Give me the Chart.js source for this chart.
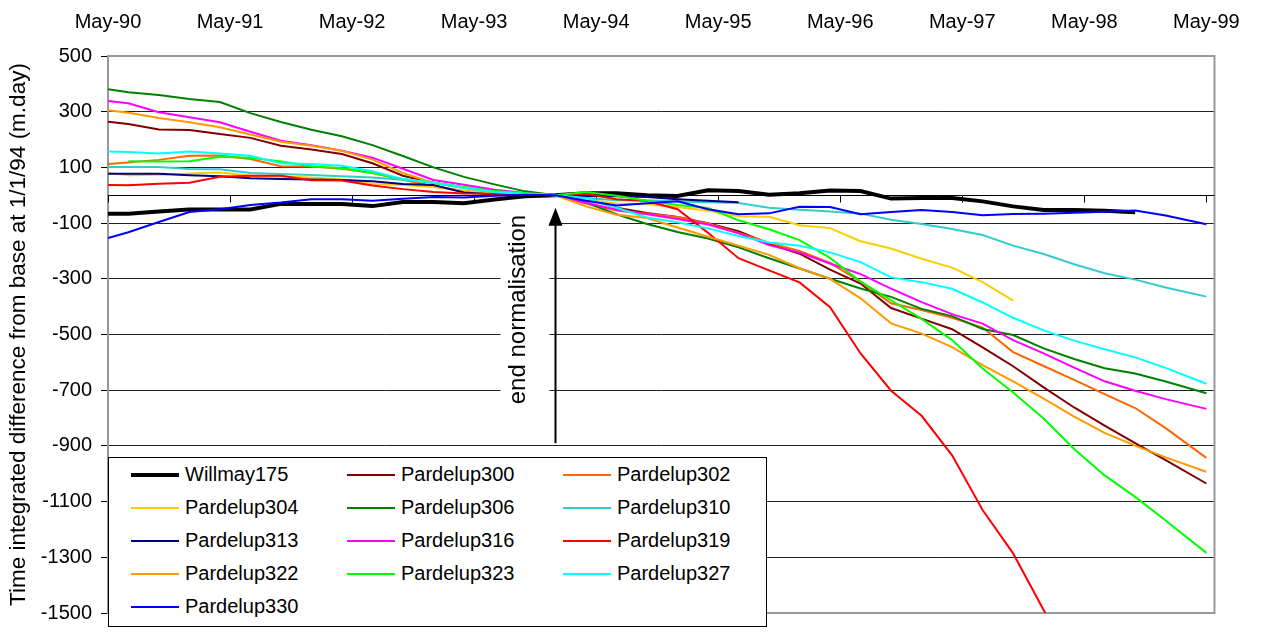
<!DOCTYPE html>
<html>
<head>
<meta charset="utf-8">
<script src="https://cdn.jsdelivr.net/npm/chart.js@4.4.1/dist/chart.umd.min.js"></script>
<style>
  html, body { margin: 0; padding: 0; background: #fff; }
  #wrap { position: relative; width: 1262px; height: 634px; }
  #legend {
    position: absolute; left: 108px; top: 457px; width: 659px; height: 170px;
    box-sizing: border-box; border: 1px solid #000; background: #fff;
    padding-left: 22px;
    display: grid; grid-template-columns: 216px 216px 190px; grid-auto-rows: 33px;
    font: 20px Arial, "Liberation Sans", sans-serif; color: #000;
  }
  .item { display: flex; align-items: center; white-space: nowrap; }
  .swatch { width: 48px; margin-right: 6px; }
</style>
</head>
<body>
<div id="wrap">
  <canvas id="chart" width="1262" height="634"></canvas>
  <div id="legend"></div>
</div>
<script>
// months after May-90 (Jan-94 = 44)
const months = [0, 2, 5, 8, 11, 14, 17, 20, 23, 26, 29, 32, 35, 38, 41, 44, 47, 50, 53, 56, 59, 62, 65, 68, 71, 74, 77, 80, 83, 86, 89, 92, 95, 98, 101, 104, 108];
const tickLabels = ['May-90', 'May-91', 'May-92', 'May-93', 'May-94', 'May-95', 'May-96', 'May-97', 'May-98', 'May-99'];

const willmay175 = [-66, -66, -58, -51, -51, -51, -31, -31, -31, -39, -24, -24, -29, -15, -4, 0, 7, 7, 0, -3, 18, 15, 2, 7, 17, 15, -12, -10, -10, -22, -40, -53, -53, -56, -61, null, null];
const pardelup300 = [264, 256, 236, 234, 220, 206, 178, 164, 148, 115, 70, 45, 28, 15, 6, 0, -10, -45, -64, -78, -100, -129, -174, -210, -267, -317, -405, -443, -481, -546, -614, -690, -762, -827, -890, -951, -1035];
const pardelup302 = [112, 118, 127, 142, 143, 130, 104, 103, 95, 80, 56, 32, 15, 8, 4, 0, -30, -55, -66, -78, -101, -135, -170, -200, -243, -310, -388, -412, -440, -475, -563, -613, -663, -714, -764, -836, -943];
const pardelup304 = [80, 72, 74, 78, 82, 70, 67, 64, 57, 40, 37, 30, 15, 8, 4, 0, -15, -30, -32, -42, -56, -75, -77, -108, -118, -165, -191, -228, -260, -312, -378, null, null, null, null, null, null];
const pardelup306 = [381, 370, 360, 346, 335, 295, 263, 235, 212, 180, 141, 100, 66, 39, 14, 0, -26, -68, -103, -132, -155, -187, -226, -263, -300, -335, -365, -408, -434, -480, -502, -550, -588, -621, -640, -669, -711];
const pardelup310 = [101, 101, 101, 94, 93, 80, 76, 73, 68, 64, 56, 45, 25, 12, 5, 0, -10, -18, -18, -22, -25, -28, -45, -52, -58, -66, -88, -103, -121, -143, -181, -211, -248, -280, -303, -331, -364];
const pardelup313 = [77, 77, 77, 72, 68, 61, 58, 57, 55, 50, 40, 37, 10, 3, 2, 0, -3, -4, -6, -14, -20, -25, null, null, null, null, null, null, null, null, null, null, null, null, null, null, null];
const pardelup316 = [338, 330, 298, 280, 262, 228, 196, 180, 160, 135, 95, 55, 38, 20, 8, 0, -27, -52, -68, -85, -105, -137, -179, -206, -245, -283, -335, -384, -427, -461, -520, -568, -619, -668, -702, -732, -767];
const pardelup319 = [37, 36, 41, 45, 66, 70, 70, 54, 53, 35, 22, 12, 6, 5, 3, 0, 5, -14, -21, -50, -135, -226, -270, -313, -402, -568, -702, -792, -934, -1130, -1286, -1489, -1690, null, null, null, null];
const pardelup322 = [305, 296, 277, 262, 244, 218, 192, 178, 160, 128, 80, 44, 28, 12, 5, 0, -40, -70, -82, -116, -149, -181, -214, -262, -300, -370, -460, -497, -545, -610, -668, -730, -795, -853, -899, -941, -993];
const pardelup323 = [null, 122, 121, 122, 138, 135, 121, 103, 98, 80, 58, 45, 30, 15, 8, 0, 12, -2, -20, -35, -46, -90, -122, -161, -225, -310, -377, -444, -520, -622, -708, -802, -911, -1006, -1083, -1168, -1284];
const pardelup327 = [157, 155, 150, 157, 150, 142, 115, 112, 106, 86, 58, 45, 28, 12, 5, 0, -10, -45, -80, -97, -119, -146, -170, -181, -205, -240, -295, -312, -336, -385, -440, -485, -522, -553, -582, -620, -677];
const pardelup330 = [-154, -133, -96, -60, -50, -35, -26, -14, -14, -20, -13, -6, -8, -2, 2, 0, -20, -37, -29, -22, -50, -68, -65, -41, -42, -68, -60, -53, -60, -72, -67, -66, -63, -59, -55, -73, -104];

const seriesNames = ['Willmay175', 'Pardelup300', 'Pardelup302', 'Pardelup304', 'Pardelup306', 'Pardelup310', 'Pardelup313',
  'Pardelup316', 'Pardelup319', 'Pardelup322', 'Pardelup323', 'Pardelup327', 'Pardelup330'];
const seriesValues = [willmay175, pardelup300, pardelup302, pardelup304, pardelup306, pardelup310, pardelup313,
  pardelup316, pardelup319, pardelup322, pardelup323, pardelup327, pardelup330];
const seriesColors = ['#000000', '#800000', '#FF6600', '#FFCC00', '#008000', '#33CCCC', '#000080',
  '#FF00FF', '#FF0000', '#FF9900', '#00FF00', '#00FFFF', '#0000FF'];

// annotation: arrow at Jan-94 pointing up to the normalisation point
const noteMonth = 44;
const noteFrom = -890;
const noteTo = -45;
const noteText = 'end normalisation';

const FONT = 'Arial, "Liberation Sans", sans-serif';

const datasets = seriesNames.map((name, i) => ({
  label: name,
  data: months.map((m, j) => ({ x: m, y: seriesValues[i][j] })),
  borderColor: seriesColors[i],
  backgroundColor: seriesColors[i],
  borderWidth: i === 0 ? 4 : 2,
  pointRadius: 0,
  tension: 0,
  spanGaps: false,
  order: -i,
}));

const frame = {
  id: 'frame',
  beforeDatasetsDraw(chart) {
    const { ctx, chartArea: a, scales: { x, y } } = chart;
    ctx.save();
    ctx.strokeStyle = '#999';
    ctx.lineWidth = 2;
    ctx.strokeRect(a.left, a.top, a.right - a.left, a.bottom - a.top);
    // horizontal axis crossing at zero, ticks pointing down
    const y0 = Math.round(y.getPixelForValue(0)) + 0.5;
    ctx.strokeStyle = '#000';
    ctx.lineWidth = 1;
    ctx.beginPath();
    ctx.moveTo(a.left, y0);
    ctx.lineTo(a.right, y0);
    tickLabels.forEach((_, k) => {
      const px = Math.round(x.getPixelForValue(k * 12)) + 0.5;
      ctx.moveTo(px, y0);
      ctx.lineTo(px, y0 + 7);
    });
    ctx.stroke();
    ctx.restore();
  },
  afterDatasetsDraw(chart) {
    const { ctx, scales: { x, y } } = chart;
    const ax = Math.round(x.getPixelForValue(noteMonth)) + 0.5;
    const yTip = y.getPixelForValue(noteTo);
    const yEnd = y.getPixelForValue(noteFrom);
    ctx.save();
    ctx.font = '24px ' + FONT;
    const tw = ctx.measureText(noteText).width;
    const tx = ax - 37;
    const ty = yTip + 7;
    ctx.fillStyle = '#fff';
    ctx.fillRect(tx - 18, yTip, 49, tw + 24);
    ctx.translate(tx, ty);
    ctx.rotate(-Math.PI / 2);
    ctx.fillStyle = '#000';
    ctx.textAlign = 'right';
    ctx.textBaseline = 'middle';
    ctx.fillText(noteText, 0, 0);
    ctx.restore();

    ctx.save();
    ctx.strokeStyle = '#000';
    ctx.fillStyle = '#000';
    ctx.lineWidth = 2;
    ctx.beginPath();
    ctx.moveTo(ax, yEnd);
    ctx.lineTo(ax, yTip + 16);
    ctx.stroke();
    ctx.beginPath();
    ctx.moveTo(ax, yTip);
    ctx.lineTo(ax - 7, yTip + 18);
    ctx.lineTo(ax + 7, yTip + 18);
    ctx.closePath();
    ctx.fill();
    ctx.restore();
  }
};

new Chart(document.getElementById('chart'), {
  type: 'line',
  data: { datasets },
  options: {
    responsive: false,
    animation: false,
    layout: { padding: { left: 0, top: 0, right: 41, bottom: 7 } },
    scales: {
      x: {
        type: 'linear',
        position: 'top',
        min: 0,
        max: 108.8,
        afterFit: s => { s.height = 56; },
        afterBuildTicks: s => { s.ticks = tickLabels.map((_, k) => ({ value: k * 12 })); },
        grid: { display: false, drawTicks: false },
        border: { display: false },
        ticks: {
          padding: 22,
          maxRotation: 0,
          autoSkip: false,
          color: '#000',
          font: { family: FONT, size: 20 },
          callback: v => tickLabels[Math.round(v / 12)]
        }
      },
      y: {
        min: -1500,
        max: 500,
        afterFit: s => { s.width = 108; },
        grid: {
          color: c => (c.tick && (c.tick.value === 500 || c.tick.value === -1500)) ? 'rgba(0,0,0,0)' : '#222',
          lineWidth: 1,
          tickLength: 7,
          tickColor: '#000'
        },
        border: { display: true, color: '#222', width: 2 },
        ticks: {
          stepSize: 200,
          padding: 9,
          color: '#000',
          font: { family: FONT, size: 20 },
          callback: v => String(v)
        },
        title: {
          display: true,
          text: 'Time integrated difference from base at 1/1/94 (m.day)',
          color: '#000',
          font: { family: FONT, size: 22.5 },
          padding: { top: 5, bottom: 0 }
        }
      }
    },
    plugins: {
      legend: { display: false },
      tooltip: { enabled: false }
    }
  },
  plugins: [frame]
});

const legend = document.getElementById('legend');
seriesNames.forEach((name, i) => {
  const item = document.createElement('div');
  item.className = 'item';
  item.innerHTML = `<span class="swatch" style="border-top:${i === 0 ? 4 : 2}px solid ${seriesColors[i]}"></span><span>${name}</span>`;
  legend.appendChild(item);
});
</script>
</body>
</html>
